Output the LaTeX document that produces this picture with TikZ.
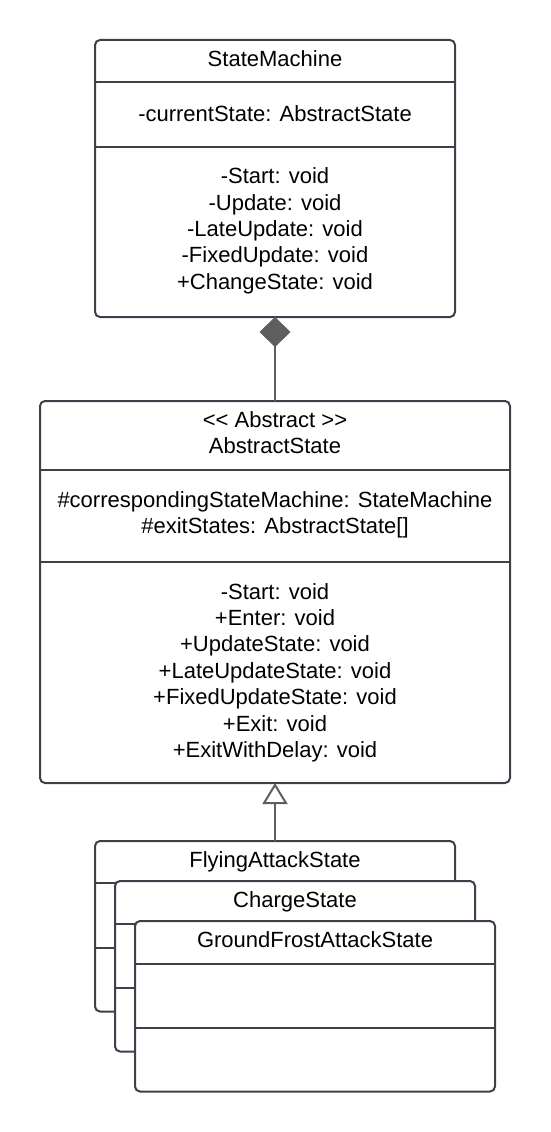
\documentclass[tikz,border=0pt]{standalone}
\usepackage{fontspec}
\setmainfont{Liberation Sans}
\usepackage{tikz}
\usetikzlibrary{arrows.meta}

\definecolor{boxline}{HTML}{3A414A}
\definecolor{connline}{HTML}{5E5E5E}

\tikzset{
  classbox/.style={draw=boxline, line width=2pt, rounded corners=5pt, fill=white, inner sep=0pt, outer sep=0pt},
  divider/.style={draw=boxline, line width=2pt},
  member/.style={font=\fontsize{22}{26.4}\selectfont, align=center, anchor=base, inner sep=0pt},
  compose/.style={draw=connline, line width=2pt, -{Diamond[length=30pt, width=31pt, fill=connline, line width=1pt]}},
  inherit/.style={draw=connline, line width=2pt, -{Triangle[open, length=21pt, width=25pt, fill=white, line width=2pt]}}
}

\begin{document}
\begin{tikzpicture}[x=1pt, y=-1pt]
      \useasboundingbox (0, 0) rectangle (550, 1132);

      % StateMachine (base = last line)
      \node[classbox, minimum width=360pt, minimum height=277pt] (sm) at (275, 178.5) {};
      \draw[divider] ([yshift=-42.3pt]sm.north west) -- ([yshift=-42.3pt]sm.north east);
      \draw[divider] ([yshift=-106.7pt]sm.north west) -- ([yshift=-106.7pt]sm.north east);
      \node[member] (smname)  at (275, 66.5)  {StateMachine};
      \node[member] (smattr)  at (275, 121.5) {-currentState: AbstractState};
      \node[member] (smops)   at (275, 289.2) {-Start: void\\-Update: void\\-LateUpdate: void\\-FixedUpdate: void\\+ChangeState: void};

      % AbstractState
      \node[classbox, minimum width=470pt, minimum height=382pt] (as) at (275, 592) {};
      \draw[divider] ([yshift=-69pt]as.north west) -- ([yshift=-69pt]as.north east);
      \draw[divider] ([yshift=-160.7pt]as.north west) -- ([yshift=-160.7pt]as.north east);
      \node[member] (asname)  at (275, 453.5) {<{}< Abstract >{}>\\AbstractState};
      \node[member] (asattr)  at (275, 533.5) {\#correspondingStateMachine: StateMachine\\\#exitStates: AbstractState[]};
      \node[member] (asops)   at (275, 757.5) {-Start: void\\+Enter: void\\+UpdateState: void\\+LateUpdateState: void\\+FixedUpdateState: void\\+Exit: void\\+ExitWithDelay: void};

      \draw[compose] (as.north) -- (sm.south);

      % concrete states
      \node[classbox, minimum width=360pt, minimum height=170.5pt] (fly) at (275, 926.25) {};
      \draw[divider] ([yshift=-42pt]fly.north west) -- ([yshift=-42pt]fly.north east);
      \draw[divider] ([yshift=-106.5pt]fly.north west) -- ([yshift=-106.5pt]fly.north east);
      \node[member] (flyname) at (275, 867) {FlyingAttackState};

      \node[classbox, minimum width=360pt, minimum height=170.5pt] (chg) at (295, 966.25) {};
      \draw[divider] ([yshift=-42.5pt]chg.north west) -- ([yshift=-42.5pt]chg.north east);
      \draw[divider] ([yshift=-107pt]chg.north west) -- ([yshift=-107pt]chg.north east);
      \node[member] (chgname) at (295, 907.3) {ChargeState};

      \node[classbox, minimum width=360pt, minimum height=170.5pt] (gfa) at (315, 1006.25) {};
      \draw[divider] ([yshift=-43pt]gfa.north west) -- ([yshift=-43pt]gfa.north east);
      \draw[divider] ([yshift=-107.3pt]gfa.north west) -- ([yshift=-107.3pt]gfa.north east);
      \node[member] (gfaname) at (315, 947.3) {GroundFrostAttackState};

      \draw[inherit] (fly.north) -- (as.south);
\end{tikzpicture}
\end{document}
